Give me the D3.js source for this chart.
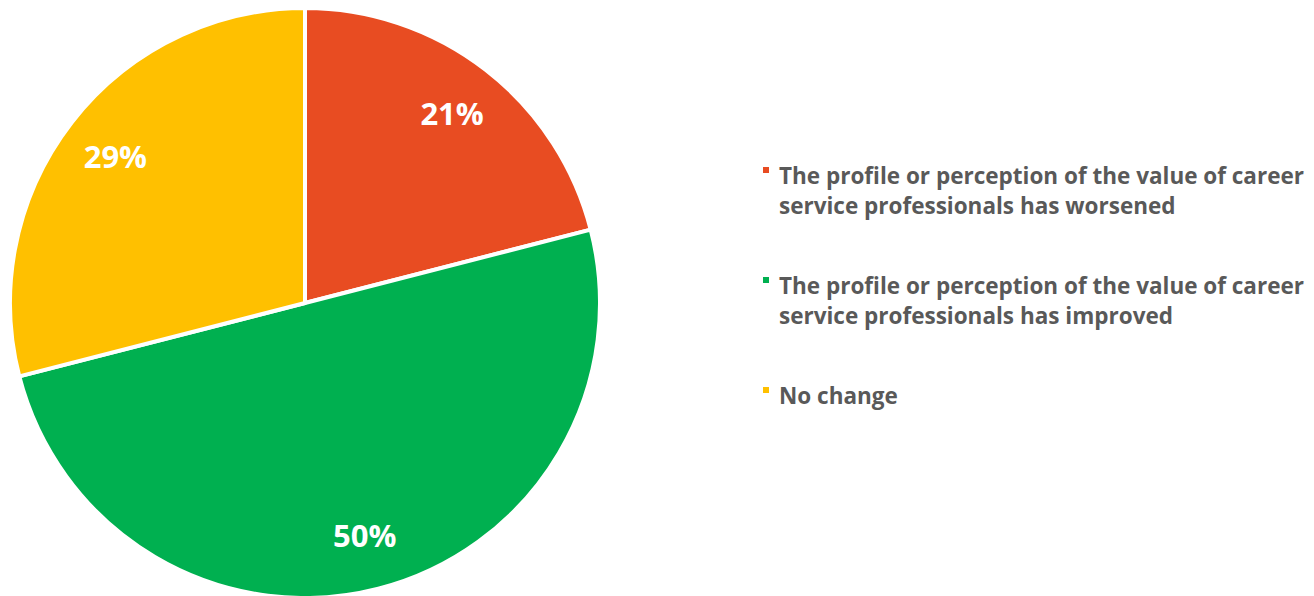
<html>
<head>
	<title>Career service professionals - perception</title>
	<script src="https://d3js.org/d3.v7.min.js"></script>
	<style>
		body { margin: 0; background: #fff; }
		svg { display: block; }
	</style>
</head>
<body>
<svg id="chart" width="1314" height="596"></svg>
<script>
	// data
	const categories = [
		"The profile or perception of the value of career service professionals has worsened",
		"The profile or perception of the value of career service professionals has improved",
		"No change"
	];
	const values = [21, 50, 29];
	const labels = ["21%", "50%", "29%"];
	const legendLines = [
		["The profile or perception of the value of career", "service professionals has worsened"],
		["The profile or perception of the value of career", "service professionals has improved"],
		["No change"]
	];
	const colors = ["#E84C22", "#00B050", "#FFC000"];

	const svg = d3.select("#chart");
	const cx = 305, cy = 303, radius = 295;

	const pie = d3.pie().sort(null).value(d => d)(values);
	const arc = d3.arc().innerRadius(0).outerRadius(radius);
	const labelArc = d3.arc().innerRadius(240).outerRadius(240);

	const g = svg.append("g").attr("transform", `translate(${cx},${cy})`);

	g.selectAll("path")
		.data(pie)
		.enter()
		.append("path")
			.attr("d", arc)
			.attr("fill", (d, i) => colors[i])
			.attr("stroke", "#fff")
			.attr("stroke-width", 4)
			.attr("stroke-linejoin", "round");

	g.selectAll("text.lbl")
		.data(pie)
		.enter()
		.append("text")
			.attr("class", "lbl")
			.attr("x", d => labelArc.centroid(d)[0])
			.attr("y", d => labelArc.centroid(d)[1])
			.attr("text-anchor", "middle")
			.attr("dominant-baseline", "central")
			.style("font-family", "'Open Sans', sans-serif")
			.style("font-weight", "bold")
			.style("font-size", "31px")
			.style("fill", "#fff")
			.text((d, i) => labels[i]);

	// legend
	const legend = svg.append("g").attr("transform", "translate(763,0)");
	const itemY = d3.scalePoint().domain(d3.range(categories.length)).range([184, 404]);

	const items = legend.selectAll("g")
		.data(categories)
		.enter()
		.append("g")
			.attr("transform", (d, i) => `translate(0,${itemY(i)})`);

	items.append("rect")
		.attr("x", 0)
		.attr("y", -17)
		.attr("width", 6)
		.attr("height", 6)
		.attr("fill", (d, i) => colors[i]);

	items.append("text")
		.style("font-family", "'Open Sans', sans-serif")
		.style("font-weight", "bold")
		.style("font-size", "22.5px")
		.style("fill", "#595959")
		.selectAll("tspan")
		.data((d, i) => legendLines[i])
		.enter()
		.append("tspan")
			.attr("x", 16)
			.attr("dy", (d, j) => j === 0 ? 0 : 30)
			.text(d => d);
</script>
</body>
</html>
